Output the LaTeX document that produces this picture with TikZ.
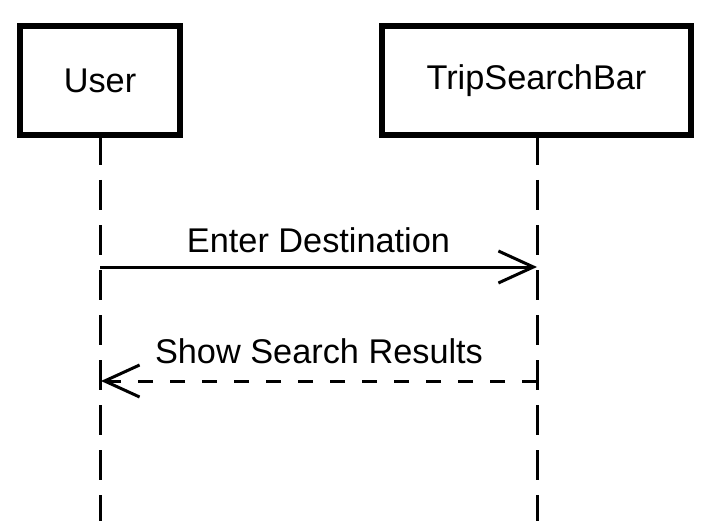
\documentclass[tikz,border=0pt]{standalone}
\usepackage{fontspec}
\setmainfont{Liberation Sans}
\usetikzlibrary{arrows.meta}
\begin{document}
\begin{tikzpicture}[x=1pt,y=-1pt,
  participant/.style={draw=black, line width=6pt, fill=white, inner sep=0pt, outer sep=0pt,
    minimum height=109pt, font=\fontsize{34.3}{41}\selectfont},
  lifeline/.style={line width=3pt, dash pattern=on 30pt off 15pt},
  msg/.style={line width=3pt, -{Straight Barb[length=35pt,width=32pt,line width=3pt]}},
  reply/.style={msg, dash pattern=on 15pt off 17pt},
  lbl/.style={font=\fontsize{34.3}{41}\selectfont, inner sep=0pt, anchor=base}]
\useasboundingbox (0,0) rectangle (711,521);
\node[participant, minimum width=160pt] (user) at (100,80.5) {User};
\node[participant, minimum width=309pt] (bar) at (536.5,80.5) {TripSearchBar};
\coordinate (userend) at (100,521);
\coordinate (barend) at (537,521);
\draw[lifeline] (user.south) -- (userend);
\draw[lifeline] (user.south -| barend) -- (barend);
\coordinate (u1) at (100,267);
\coordinate (b1) at (537,267);
\coordinate (u2) at (101,381);
\coordinate (b2) at (537,381);
\draw[msg] (u1) -- (b1) node[lbl, midway, yshift=15pt] (l1) {Enter Destination};
\draw[reply] (b2) -- (u2) node[lbl, midway, yshift=18pt] (l2) {Show Search Results};
\end{tikzpicture}
\end{document}
